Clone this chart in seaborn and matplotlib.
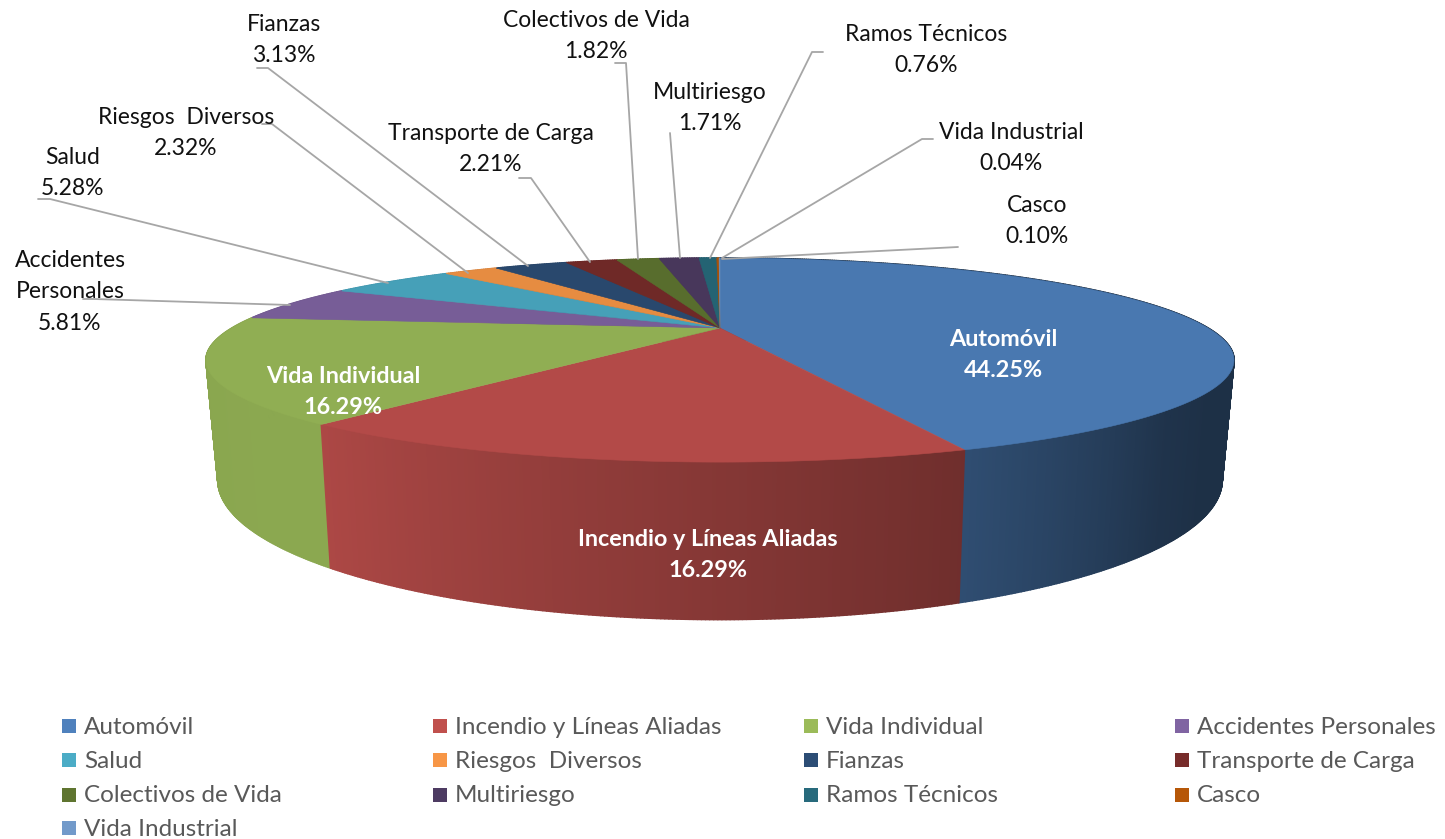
import numpy as np
import pandas as pd
import matplotlib
matplotlib.use('Agg')
import matplotlib.pyplot as plt
from matplotlib.collections import PolyCollection
import seaborn as sns

ramos = ['Automóvil', 'Incendio y Líneas Aliadas', 'Vida Individual', 'Accidentes Personales',
         'Salud', 'Riesgos  Diversos', 'Fianzas', 'Transporte de Carga',
         'Colectivos de Vida', 'Multiriesgo', 'Ramos Técnicos', 'Casco', 'Vida Industrial']
valores = [44.25, 16.29, 16.29, 5.81, 5.28, 2.32, 3.13, 2.21, 1.82, 1.71, 0.76, 0.10, 0.04]
colores = ['#4f81bd', '#c0504d', '#9bbb59', '#8064a2', '#4bacc6', '#f79646', '#2c4d75',
           '#772c2a', '#5f7530', '#4d3b62', '#276a7c', '#b65708', '#729aca']

# perspective of the tilted pie, in pixels
CX, CY = 720, 328
A, B, K, H = 488, 92, 0.314, 108
ESTRECHA = 0.023  # the wall narrows a little towards the bottom


def proyectar(theta, z=0.0):
    # theta in degrees clockwise from the back of the pie
    t = np.radians(theta)
    w = 1 + K * np.cos(t)
    return CX + A * np.sin(t) / w * (1 - ESTRECHA * z), CY + (-B * np.cos(t) + z * H) / w


def sombra(theta, i):
    # how dark the side wall gets along the pie
    if i == 0:
        return np.interp(theta, [0, 125, 135, 159.3], [0.37, 0.37, 0.40, 0.60])
    return np.interp(theta, [159.3, 218, 277, 360], [0.58, 0.90, 0.88, 0.88])


sns.set_theme(style='white')
plt.rcParams['font.family'] = ['Lato', 'DejaVu Sans']
paleta = sns.color_palette(colores)

fig = plt.figure(figsize=(14.45, 8.39), dpi=100)
ax = fig.add_axes([0, 0, 1, 1])
ax.set_xlim(0, 1445)
ax.set_ylim(839, 0)
ax.axis('off')

bordes = np.concatenate([[0], np.cumsum(valores)]) / np.sum(valores) * 360

# side wall first, back to front, top surface covers the back of it
trozos = []
for i, col in enumerate(paleta):
    pasos = np.linspace(bordes[i], bordes[i + 1], max(2, int((bordes[i + 1] - bordes[i]) * 3)))
    for t0, t1 in zip(pasos[:-1], pasos[1:]):
        x0, y0 = proyectar(t0)
        x1, y1 = proyectar(t1)
        x2, y2 = proyectar(t1, 1)
        x3, y3 = proyectar(t0, 1)
        fondo = np.cos(np.radians((t0 + t1) / 2))
        trozos.append((fondo, [(x0, y0), (x1, y1), (x2, y2), (x3, y3)],
                       np.array(col) * sombra((t0 + t1) / 2, i)))
trozos.sort(key=lambda q: -q[0])
quads = [q[1] for q in trozos]
tonos = [q[2] for q in trozos]
ax.add_collection(PolyCollection(quads, facecolors=tonos, edgecolors=tonos, linewidths=1.2))

for i, col in enumerate(paleta):
    arco = np.linspace(bordes[i], bordes[i + 1], 120)
    xs, ys = proyectar(arco)
    sup = np.array(col) * 0.93
    ax.fill(np.r_[CX, xs], np.r_[CY, ys], color=sup, lw=0.4)

# leader lines
guias = [
    [(83, 299), (94, 299), (290, 305)],
    [(38, 199), (50, 199), (388, 283)],
    [(262, 124), (272, 124), (468, 273)],
    [(257, 68), (268, 68), (528, 266)],
    [(519, 178), (531, 178), (590, 262)],
    [(615, 63), (626, 63), (638, 259)],
    [(670, 133), (680, 258)],
    [(823, 52), (812, 52), (710, 258)],
    [(958, 247), (722, 259)],
    [(933, 139), (922, 139), (722, 258)],
]
for g in guias:
    ax.plot(*zip(*g), color='#a6a6a6', lw=1.3)

etiquetas = [
    (1003, 355, 'Automóvil'), (708, 555, 'Incendio y Líneas Aliadas'), (343, 392, 'Vida Individual'),
    (70, 292, 'Accidentes\nPersonales'), (73, 173, 'Salud'), (186, 133, 'Riesgos  Diversos'),
    (284, 40, 'Fianzas'), (491, 149, 'Transporte de Carga'), (596, 36, 'Colectivos de Vida'),
    (710, 108, 'Multiriesgo'), (926, 50, 'Ramos Técnicos'), (1037, 221, 'Casco'),
    (1011, 148, 'Vida Industrial'),
]
for i, (x, y, nombre) in enumerate(etiquetas):
    grande = i < 3
    ax.text(x, y, f'{nombre}\n{valores[i]:.2f}%', ha='center', va='center', multialignment='center',
            fontsize=16.5 if not grande else 16.8, linespacing=1.6,
            color='white' if grande else '#111111', fontweight='bold' if grande else 'normal')

# legend laid out row by row, as in the original
col_x = [62, 433, 804, 1175]
fila_y = [726, 760, 795, 828]
leyenda = pd.DataFrame({
    'ramo': ramos,
    'x': [col_x[i % 4] + 7 for i in range(len(ramos))],
    'y': [fila_y[i // 4] for i in range(len(ramos))],
})
sns.scatterplot(data=leyenda, x='x', y='y', hue='ramo', palette=colores, hue_order=ramos,
                marker='s', s=115, linewidth=0, legend=False, ax=ax)
for _, fila in leyenda.iterrows():
    ax.text(fila['x'] + 15, fila['y'] + 1, fila['ramo'], va='center', ha='left', fontsize=17.5, color='#595959')
ax.set_xlabel('')
ax.set_ylabel('')
ax.set_xlim(0, 1445)
ax.set_ylim(839, 0)

fig.savefig('out.png', dpi=100)
